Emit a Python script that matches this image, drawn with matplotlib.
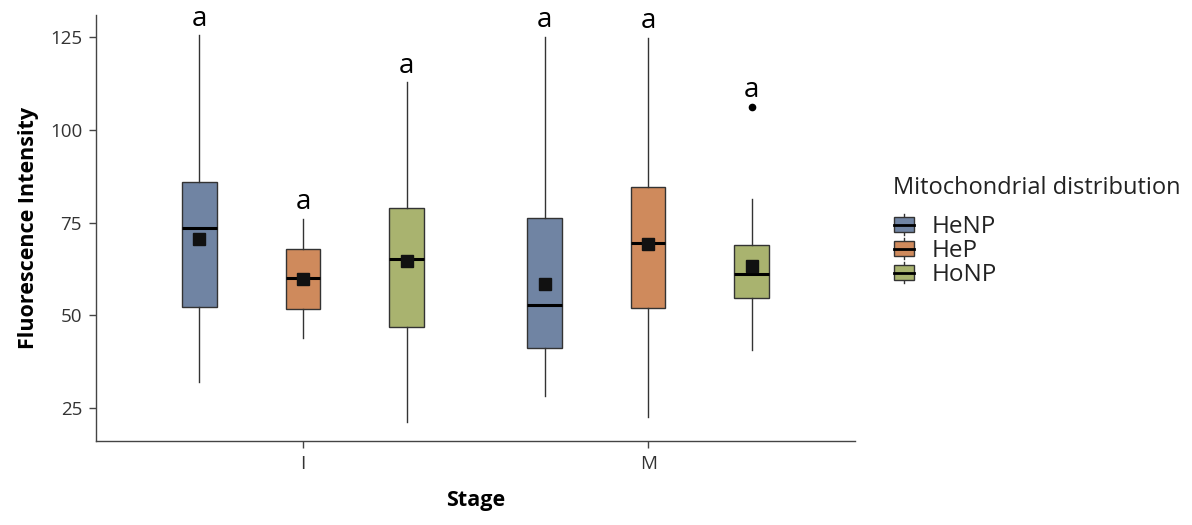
import numpy as np
import matplotlib
matplotlib.use("Agg")
from matplotlib import pyplot as plt
from matplotlib.legend_handler import HandlerBase
from matplotlib.patches import Rectangle, Patch
from matplotlib.lines import Line2D

plt.rcParams['font.family'] = ['Open Sans', 'DejaVu Sans']

stages = ['I', 'M']
groups = ['HeNP', 'HeP', 'HoNP']
colors = ['#7084A3', '#CF8A5C', '#A9B36F']

# box statistics, one list per group, order: I, M
whislo = {'HeNP': [32.0, 28.2], 'HeP': [43.8, 22.5], 'HoNP': [21.3, 40.6]}
q1 = {'HeNP': [52.2, 41.3], 'HeP': [51.7, 52.0], 'HoNP': [46.9, 54.6]}
med = {'HeNP': [73.5, 52.8], 'HeP': [60.0, 69.4], 'HoNP': [65.2, 61.1]}
q3 = {'HeNP': [86.0, 76.1], 'HeP': [68.0, 84.5], 'HoNP': [79.0, 69.0]}
whishi = {'HeNP': [125.5, 125.1], 'HeP': [76.0, 124.8], 'HoNP': [112.8, 81.3]}
means = {'HeNP': [70.5, 58.5], 'HeP': [59.8, 69.1], 'HoNP': [64.5, 63.2]}
fliers = {'HeNP': [[], []], 'HeP': [[], []], 'HoNP': [[], [106.2]]}
letters = {'HeNP': ['a', 'a'], 'HeP': ['a', 'a'], 'HoNP': ['a', 'a']}

fig = plt.figure(figsize=(11.92, 5.25), dpi=100)
ax = fig.add_axes([0.0805, 0.16, 0.637, 0.811])

dodge = 0.3
width = 0.1
edge = '#333333'
for gi, g in enumerate(groups):
    stats = []
    for si in range(len(stages)):
        stats.append(dict(med=med[g][si], q1=q1[g][si], q3=q3[g][si],
                          whislo=whislo[g][si], whishi=whishi[g][si],
                          fliers=fliers[g][si]))
    pos = np.arange(1, len(stages) + 1) + (gi - 1) * dodge
    ax.bxp(stats, positions=pos, widths=width, patch_artist=True,
           showcaps=False, manage_ticks=False,
           boxprops=dict(facecolor=colors[gi], edgecolor=edge, linewidth=1.0),
           whiskerprops=dict(color=edge, linewidth=1.0),
           medianprops=dict(color='black', linewidth=2.2),
           flierprops=dict(marker='o', markerfacecolor='black',
                           markeredgecolor='black', markersize=4.5))
    ax.plot(pos, means[g], 's', color='#111111', markersize=8, zorder=5)
    for si, p in enumerate(pos):
        top = max([whishi[g][si]] + fliers[g][si])
        ax.text(p, top + 2.6, letters[g][si], ha='center', va='baseline',
                fontsize=20, color='black')

ax.set_xlim(0.4, 2.6)
ax.set_ylim(16.1, 130.9)
ax.set_xticks([1, 2])
ax.set_xticklabels(stages)
ax.set_yticks([25, 50, 75, 100, 125])
ax.tick_params(axis='both', colors='#444444', labelsize=13.5, length=5,
               width=1.0, labelcolor='#333333', pad=5)
for s in ['top', 'right']:
    ax.spines[s].set_visible(False)
for s in ['left', 'bottom']:
    ax.spines[s].set_color('#444444')
    ax.spines[s].set_linewidth(1.0)
ax.set_xlabel('Stage', fontsize=15.5, fontweight='bold', labelpad=12)
ax.set_ylabel('Fluorescence Intensity', fontsize=15.5, fontweight='bold', labelpad=8)


class BoxKeyHandler(HandlerBase):
    def create_artists(self, legend, orig_handle, xdescent, ydescent,
                       width, height, fontsize, trans):
        cx = -xdescent + width / 2
        cy = -ydescent + height / 2
        w = 14.5
        h = 10.5
        wl = Line2D([cx, cx], [cy - h / 2 - 2.5, cy + h / 2 + 2.5], color=edge,
                    lw=1.0, transform=trans)
        rect = Rectangle((cx - w / 2, cy - h / 2), w, h,
                         facecolor=orig_handle.get_facecolor(),
                         edgecolor=edge, lw=1.0, transform=trans)
        ml = Line2D([cx - w / 2, cx + w / 2], [cy, cy],
                    color='black', lw=2.0, transform=trans)
        return [wl, rect, ml]


handles = [Patch(facecolor=c, label=g) for c, g in zip(colors, groups)]
leg = fig.legend(handles=handles, labels=groups, loc='upper left',
                 bbox_to_anchor=(0.739, 0.688), frameon=False, borderpad=0,
                 title='Mitochondrial distribution', title_fontsize=17,
                 fontsize=17.5, handler_map={Patch: BoxKeyHandler()},
                 handlelength=0.9, handleheight=0.7, handletextpad=0.7,
                 labelspacing=0.0, alignment='left')
leg._legend_box.sep = 11
leg.get_title().set_color('#222222')
for t in leg.get_texts():
    t.set_color('#222222')

fig.savefig('out.png', dpi=100)
